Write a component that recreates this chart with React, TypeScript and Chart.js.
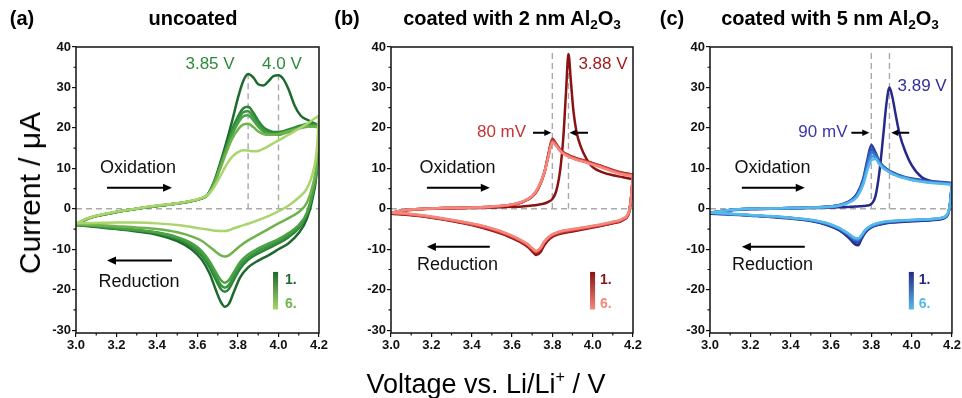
import React, { useEffect, useRef } from 'react';
import { Chart, registerables } from 'chart.js';

Chart.register(...registerables);

const FONT = "'Liberation Sans', Arial, Helvetica, sans-serif";

// ---------- axes ----------
const X_TICKS = [3.0, 3.2, 3.4, 3.6, 3.8, 4.0, 4.2];
const X_MINOR = [3.1, 3.3, 3.5, 3.7, 3.9, 4.1];
const Y_TICKS = [-30, -20, -10, 0, 10, 20, 30, 40];
const Y_MINOR = [-25, -15, -5, 5, 15, 25, 35];

// ---------- (a) uncoated ----------
const V_A_OX = [3.0, 3.05, 3.1, 3.2, 3.3, 3.4, 3.5, 3.56, 3.61, 3.65, 3.68, 3.71, 3.74, 3.77, 3.8, 3.825, 3.85, 3.875, 3.9, 3.925, 3.95, 3.975, 4.0, 4.025, 4.05, 4.08, 4.11, 4.15, 4.18, 4.2];
const A_OX_1 = [-4.0, -2.6, -1.8, -0.8, 0.0, 0.7, 1.3, 1.8, 2.4, 3.5, 6.5, 11.0, 16.0, 21.5, 27.5, 31.5, 33.3, 32.5, 30.8, 30.5, 31.5, 32.8, 33.0, 32.0, 29.5, 25.5, 23.0, 21.8, 21.0, 20.5];
const A_OX_2 = [-4.0, -2.6, -1.8, -0.8, 0.0, 0.7, 1.3, 1.8, 2.4, 3.5, 6.3, 10.5, 15.0, 19.5, 22.8, 24.8, 25.2, 23.8, 21.8, 20.2, 19.4, 19.0, 19.0, 19.2, 19.6, 20.1, 20.6, 21.0, 21.0, 20.8];
const A_OX_3 = [-3.9, -2.6, -1.8, -0.8, 0.0, 0.7, 1.3, 1.8, 2.4, 3.4, 6.2, 10.3, 14.6, 18.8, 22.0, 23.8, 24.1, 22.8, 21.0, 19.6, 18.9, 18.6, 18.6, 18.9, 19.3, 19.8, 20.3, 20.7, 20.8, 20.6];
const A_OX_4 = [-3.9, -2.6, -1.8, -0.8, 0.0, 0.7, 1.3, 1.8, 2.4, 3.4, 6.1, 10.0, 14.2, 18.2, 21.2, 22.8, 23.1, 21.9, 20.3, 19.1, 18.5, 18.3, 18.3, 18.6, 19.0, 19.5, 20.0, 20.5, 20.6, 20.4];
const A_OX_5 = [-3.8, -2.5, -1.7, -0.8, 0.0, 0.7, 1.3, 1.8, 2.4, 3.4, 5.8, 9.6, 13.6, 17.2, 19.6, 20.8, 21.0, 20.2, 19.1, 18.5, 18.3, 18.3, 18.5, 18.8, 19.2, 19.6, 20.0, 20.3, 20.3, 20.0];
const A_OX_6 = [-3.6, -2.5, -1.7, -0.7, 0.1, 0.8, 1.4, 1.9, 2.5, 3.4, 5.2, 7.8, 10.6, 12.8, 14.0, 14.5, 14.4, 14.2, 14.3, 14.8, 15.5, 16.2, 16.9, 17.6, 18.3, 19.2, 20.1, 21.3, 22.4, 23.0];

const V_A_RED = [3.0, 3.1, 3.2, 3.3, 3.4, 3.5, 3.57, 3.62, 3.66, 3.69, 3.715, 3.735, 3.755, 3.78, 3.81, 3.85, 3.9, 3.95, 4.0, 4.05, 4.1, 4.14, 4.17, 4.19, 4.2];
const A_RED_1 = [-4.0, -4.5, -5.0, -5.6, -6.4, -8.0, -10.0, -12.5, -16.0, -20.0, -23.0, -24.2, -23.5, -20.5, -17.0, -14.5, -12.8, -11.5, -10.0, -8.5, -6.0, -2.5, 3.0, 10.0, 20.5];
const A_RED_2 = [-4.0, -4.4, -4.9, -5.4, -6.1, -7.5, -9.3, -11.5, -14.5, -17.5, -19.8, -20.5, -19.8, -17.5, -14.8, -12.6, -11.0, -9.8, -8.5, -7.0, -4.8, -1.5, 4.0, 11.0, 20.8];
const A_RED_3 = [-3.9, -4.3, -4.8, -5.3, -5.9, -7.2, -8.9, -11.0, -13.8, -16.6, -18.8, -19.5, -18.8, -16.6, -14.0, -12.0, -10.4, -9.2, -8.0, -6.5, -4.4, -1.2, 4.2, 11.0, 20.6];
const A_RED_4 = [-3.9, -4.2, -4.7, -5.2, -5.8, -7.0, -8.5, -10.4, -13.0, -15.6, -17.6, -18.3, -17.6, -15.6, -13.2, -11.3, -9.8, -8.6, -7.5, -6.0, -4.0, -1.0, 4.5, 11.0, 20.4];
const A_RED_5 = [-3.8, -4.0, -4.3, -4.6, -5.0, -5.8, -6.8, -7.9, -9.4, -10.6, -11.5, -11.8, -11.5, -10.5, -9.2, -7.8, -6.4, -5.0, -3.6, -2.3, -0.8, 1.5, 6.0, 12.0, 20.0];
const A_RED_6 = [-3.6, -3.5, -3.4, -3.4, -3.6, -4.0, -4.5, -4.9, -5.2, -5.4, -5.5, -5.5, -5.3, -4.8, -4.3, -3.7, -2.8, -1.8, -0.6, 0.8, 2.8, 5.0, 9.0, 15.0, 23.0];

// ---------- (b) 2 nm Al2O3 ----------
const V_B_OX = [3.0, 3.05, 3.1, 3.2, 3.3, 3.4, 3.5, 3.6, 3.65, 3.7, 3.73, 3.76, 3.78, 3.8, 3.82, 3.84, 3.855, 3.868, 3.88, 3.892, 3.905, 3.92, 3.94, 3.97, 4.0, 4.05, 4.1, 4.15, 4.2];
const B_OX_1 = [-1.2, -0.6, -0.3, 0.0, 0.1, 0.2, 0.3, 0.5, 0.6, 0.8, 1.0, 1.3, 1.7, 2.4, 4.5, 10.0, 18.0, 29.0, 38.3, 31.5, 24.0, 19.0, 15.5, 12.3, 10.3, 9.0, 8.3, 7.8, 7.3];
const B_OX_2 = [-1.0, -0.5, -0.2, 0.1, 0.2, 0.3, 0.5, 1.0, 1.6, 3.0, 5.0, 9.0, 13.5, 17.3, 16.0, 14.6, 14.0, 13.6, 13.3, 13.0, 12.8, 12.5, 12.2, 11.8, 11.3, 10.5, 9.6, 8.9, 8.5];
const B_OX_3 = [-1.0, -0.5, -0.2, 0.1, 0.2, 0.3, 0.5, 1.0, 1.6, 3.0, 5.0, 8.8, 13.2, 17.0, 15.8, 14.5, 13.9, 13.5, 13.2, 12.9, 12.7, 12.4, 12.1, 11.7, 11.2, 10.4, 9.5, 8.8, 8.4];
const B_OX_4 = [-1.0, -0.5, -0.2, 0.1, 0.2, 0.3, 0.5, 1.0, 1.7, 3.1, 5.1, 8.8, 13.0, 16.8, 15.7, 14.4, 13.8, 13.4, 13.1, 12.8, 12.6, 12.3, 12.0, 11.6, 11.1, 10.3, 9.4, 8.7, 8.3];
const B_OX_5 = [-1.0, -0.5, -0.2, 0.1, 0.2, 0.3, 0.5, 1.1, 1.7, 3.1, 5.2, 8.9, 12.9, 16.6, 15.6, 14.3, 13.7, 13.3, 13.0, 12.7, 12.5, 12.2, 11.9, 11.5, 11.0, 10.2, 9.3, 8.6, 8.2];
const B_OX_6 = [-1.0, -0.5, -0.2, 0.1, 0.2, 0.3, 0.6, 1.1, 1.8, 3.2, 5.3, 9.0, 12.8, 16.4, 15.5, 14.2, 13.6, 13.2, 12.9, 12.6, 12.4, 12.1, 11.8, 11.4, 10.9, 10.1, 9.2, 8.5, 8.1];

const V_B_RED = [3.0, 3.1, 3.2, 3.3, 3.4, 3.5, 3.58, 3.64, 3.68, 3.7, 3.72, 3.74, 3.76, 3.79, 3.83, 3.9, 4.0, 4.1, 4.15, 4.18, 4.19, 4.2];
const B_RED_1 = [-1.2, -1.6, -2.2, -3.0, -4.0, -5.4, -6.8, -8.2, -9.5, -10.5, -11.4, -10.8, -9.0, -7.3, -6.3, -5.6, -4.6, -3.6, -2.8, -1.0, 2.0, 7.3];
const B_RED_2 = [-1.0, -1.5, -2.1, -2.9, -3.9, -5.2, -6.6, -8.0, -9.3, -10.2, -10.9, -10.2, -8.6, -7.0, -6.1, -5.4, -4.5, -3.5, -2.7, -0.8, 2.5, 8.5];
const B_RED_3 = [-1.0, -1.5, -2.1, -2.9, -3.9, -5.1, -6.5, -7.9, -9.1, -10.0, -10.7, -10.0, -8.4, -6.9, -6.0, -5.3, -4.4, -3.4, -2.6, -0.8, 2.5, 8.4];
const B_RED_4 = [-1.0, -1.4, -2.0, -2.8, -3.8, -5.0, -6.4, -7.8, -9.0, -9.9, -10.6, -9.9, -8.3, -6.8, -5.9, -5.2, -4.4, -3.4, -2.6, -0.8, 2.5, 8.3];
const B_RED_5 = [-1.0, -1.4, -2.0, -2.8, -3.7, -4.9, -6.3, -7.7, -8.9, -9.8, -10.5, -9.8, -8.2, -6.7, -5.8, -5.1, -4.3, -3.3, -2.5, -0.7, 2.5, 8.2];
const B_RED_6 = [-0.9, -1.3, -1.9, -2.7, -3.6, -4.8, -6.2, -7.6, -8.8, -9.7, -10.4, -9.7, -8.1, -6.6, -5.7, -5.0, -4.2, -3.2, -2.4, -0.6, 2.5, 8.1];

// ---------- (c) 5 nm Al2O3 ----------
const V_C_OX = [3.0, 3.05, 3.1, 3.2, 3.3, 3.4, 3.5, 3.6, 3.65, 3.7, 3.73, 3.76, 3.78, 3.8, 3.82, 3.84, 3.86, 3.875, 3.89, 3.905, 3.92, 3.94, 3.97, 4.0, 4.05, 4.1, 4.15, 4.2];
const C_OX_1 = [-1.2, -0.7, -0.4, -0.1, 0.0, 0.1, 0.2, 0.3, 0.4, 0.5, 0.6, 0.7, 0.8, 1.2, 3.0, 9.0, 18.5, 26.0, 30.0, 27.5, 23.5, 18.5, 14.0, 10.8, 7.8, 6.8, 6.4, 6.1];
const C_OX_2 = [-1.0, -0.6, -0.3, 0.0, 0.1, 0.2, 0.3, 0.6, 1.0, 2.2, 3.8, 7.5, 12.0, 15.8, 14.0, 11.8, 10.5, 9.9, 9.4, 9.0, 8.7, 8.3, 7.8, 7.5, 7.1, 6.8, 6.6, 6.4];
const C_OX_3 = [-1.0, -0.6, -0.3, 0.0, 0.1, 0.2, 0.3, 0.6, 1.0, 2.1, 3.6, 7.1, 11.3, 14.8, 13.6, 11.6, 10.4, 9.8, 9.3, 8.9, 8.6, 8.2, 7.7, 7.4, 7.0, 6.7, 6.5, 6.3];
const C_OX_4 = [-1.0, -0.6, -0.3, 0.0, 0.1, 0.2, 0.3, 0.6, 1.0, 2.0, 3.4, 6.8, 10.7, 14.0, 13.2, 11.4, 10.3, 9.7, 9.2, 8.8, 8.5, 8.1, 7.7, 7.3, 6.9, 6.6, 6.4, 6.2];
const C_OX_5 = [-1.0, -0.6, -0.3, 0.0, 0.1, 0.2, 0.3, 0.6, 0.9, 1.9, 3.2, 6.4, 10.1, 13.0, 12.8, 11.2, 10.1, 9.6, 9.1, 8.7, 8.4, 8.0, 7.6, 7.2, 6.8, 6.5, 6.3, 6.1];
const C_OX_6 = [-1.0, -0.6, -0.3, 0.0, 0.1, 0.2, 0.3, 0.5, 0.9, 1.8, 3.0, 6.0, 9.5, 12.0, 12.3, 11.0, 10.0, 9.5, 9.0, 8.6, 8.3, 7.9, 7.5, 7.1, 6.7, 6.4, 6.2, 6.0];

const V_C_RED = [3.0, 3.1, 3.2, 3.3, 3.4, 3.5, 3.58, 3.64, 3.68, 3.7, 3.72, 3.735, 3.75, 3.77, 3.8, 3.85, 3.9, 4.0, 4.1, 4.15, 4.18, 4.19, 4.2];
const C_RED_1 = [-1.2, -1.4, -1.7, -2.0, -2.4, -3.0, -4.0, -5.3, -6.8, -7.8, -8.8, -9.0, -7.6, -5.9, -4.6, -3.8, -3.4, -3.1, -2.8, -2.5, -1.4, 1.0, 6.1];
const C_RED_2 = [-1.0, -1.3, -1.6, -1.9, -2.3, -2.9, -3.9, -5.1, -6.5, -7.4, -8.2, -8.4, -7.2, -5.7, -4.5, -3.7, -3.3, -3.0, -2.7, -2.4, -1.3, 1.0, 6.4];
const C_RED_3 = [-1.0, -1.3, -1.6, -1.9, -2.3, -2.9, -3.8, -5.0, -6.3, -7.1, -7.9, -8.0, -7.0, -5.5, -4.4, -3.6, -3.2, -2.9, -2.6, -2.3, -1.2, 1.0, 6.3];
const C_RED_4 = [-1.0, -1.3, -1.6, -1.9, -2.3, -2.8, -3.7, -4.9, -6.1, -6.9, -7.6, -7.7, -6.8, -5.4, -4.3, -3.5, -3.1, -2.8, -2.6, -2.3, -1.2, 1.0, 6.2];
const C_RED_5 = [-1.0, -1.3, -1.6, -1.9, -2.2, -2.8, -3.6, -4.8, -6.0, -6.7, -7.4, -7.5, -6.7, -5.3, -4.2, -3.4, -3.1, -2.8, -2.5, -2.2, -1.1, 1.0, 6.1];
const C_RED_6 = [-0.9, -1.2, -1.5, -1.8, -2.2, -2.7, -3.5, -4.7, -5.9, -6.6, -7.2, -7.3, -6.6, -5.2, -4.1, -3.3, -3.0, -2.7, -2.5, -2.2, -1.1, 1.0, 6.0];

// ---------- colours (cycle 1 → cycle 6) ----------
const GREENS = ['#1d6a2c', '#2b8437', '#3a953f', '#4aa245', '#70b34c', '#a9d56c'];
const REDS = ['#8a1212', '#a81f1f', '#c22f2f', '#d64343', '#e65e58', '#f3897d'];
const BLUES = ['#26288a', '#2c3ea0', '#2f57b8', '#3373cc', '#3b93dd', '#57b9ea'];

type Txt = { v: number; i: number; text: string; color: string; size: number; bold?: boolean; align?: CanvasTextAlign };
type Arr = { v1: number; v2: number; i: number; head: number };
type Annot = {
  vlines: { v: number; top: number }[];
  texts: Txt[];
  arrows: Arr[];
  bar: { v1: number; v2: number; i1: number; i2: number; c1: string; c2: string };
};

const ANNOT_A: Annot = {
  vlines: [{ v: 3.85, top: 33.5 }, { v: 4.0, top: 33.2 }],
  texts: [
    { v: 3.662, i: 35.6, text: '3.85 V', color: '#2f8a3a', size: 17 },
    { v: 4.017, i: 35.6, text: '4.0 V', color: '#2f8a3a', size: 17 },
    { v: 3.306, i: 10.1, text: 'Oxidation', color: '#111', size: 18 },
    { v: 3.311, i: -18.0, text: 'Reduction', color: '#111', size: 18 },
    { v: 4.032, i: -17.6, text: '1.', color: GREENS[0], size: 14, bold: true, align: 'left' },
    { v: 4.032, i: -23.6, text: '6.', color: GREENS[4], size: 14, bold: true, align: 'left' },
  ],
  arrows: [
    { v1: 3.153, v2: 3.474, i: 5.2, head: 9 },
    { v1: 3.474, v2: 3.153, i: -12.8, head: 9 },
  ],
  bar: { v1: 3.973, v2: 3.998, i1: -15.6, i2: -24.9, c1: GREENS[0], c2: GREENS[5] },
};

const ANNOT_B: Annot = {
  vlines: [{ v: 3.8, top: 38.5 }, { v: 3.88, top: 38.5 }],
  texts: [
    { v: 4.051, i: 35.6, text: '3.88 V', color: '#a11d1d', size: 17 },
    { v: 3.548, i: 18.8, text: '80 mV', color: '#c43434', size: 17 },
    { v: 3.33, i: 10.1, text: 'Oxidation', color: '#111', size: 18 },
    { v: 3.33, i: -13.8, text: 'Reduction', color: '#111', size: 18 },
    { v: 4.036, i: -17.6, text: '1.', color: REDS[0], size: 14, bold: true, align: 'left' },
    { v: 4.036, i: -23.6, text: '6.', color: REDS[5], size: 14, bold: true, align: 'left' },
  ],
  arrows: [
    { v1: 3.704, v2: 3.795, i: 18.8, head: 7 },
    { v1: 3.977, v2: 3.885, i: 18.8, head: 7 },
    { v1: 3.178, v2: 3.49, i: 5.2, head: 9 },
    { v1: 3.49, v2: 3.178, i: -9.4, head: 9 },
  ],
  bar: { v1: 3.987, v2: 4.012, i1: -15.6, i2: -24.9, c1: REDS[0], c2: REDS[5] },
};

const ANNOT_C: Annot = {
  vlines: [{ v: 3.8, top: 38.5 }, { v: 3.89, top: 38.5 }],
  texts: [
    { v: 4.052, i: 30.4, text: '3.89 V', color: '#30309a', size: 17 },
    { v: 3.56, i: 18.8, text: '90 mV', color: '#3838aa', size: 17 },
    { v: 3.31, i: 10.1, text: 'Oxidation', color: '#111', size: 18 },
    { v: 3.31, i: -13.8, text: 'Reduction', color: '#111', size: 18 },
    { v: 4.035, i: -17.6, text: '1.', color: BLUES[0], size: 14, bold: true, align: 'left' },
    { v: 4.035, i: -23.6, text: '6.', color: BLUES[5], size: 14, bold: true, align: 'left' },
  ],
  arrows: [
    { v1: 3.701, v2: 3.79, i: 18.8, head: 7 },
    { v1: 3.988, v2: 3.899, i: 18.8, head: 7 },
    { v1: 3.158, v2: 3.47, i: 5.2, head: 9 },
    { v1: 3.47, v2: 3.158, i: -9.4, head: 9 },
  ],
  bar: { v1: 3.986, v2: 4.011, i1: -15.6, i2: -24.9, c1: BLUES[0], c2: BLUES[5] },
};

type Panel = {
  vOx: number[];
  ox: number[][];
  vRed: number[];
  red: number[][];
  colors: string[];
  padding: { left: number; right: number; top: number; bottom: number };
  annot: Annot;
};

const PANELS: Panel[] = [
  {
    vOx: V_A_OX, ox: [A_OX_1, A_OX_2, A_OX_3, A_OX_4, A_OX_5, A_OX_6],
    vRed: V_A_RED, red: [A_RED_1, A_RED_2, A_RED_3, A_RED_4, A_RED_5, A_RED_6],
    colors: GREENS, padding: { left: 42, right: 643, top: 47, bottom: 39 }, annot: ANNOT_A,
  },
  {
    vOx: V_B_OX, ox: [B_OX_1, B_OX_2, B_OX_3, B_OX_4, B_OX_5, B_OX_6],
    vRed: V_B_RED, red: [B_RED_1, B_RED_2, B_RED_3, B_RED_4, B_RED_5, B_RED_6],
    colors: REDS, padding: { left: 357, right: 329, top: 47, bottom: 39 }, annot: ANNOT_B,
  },
  {
    vOx: V_C_OX, ox: [C_OX_1, C_OX_2, C_OX_3, C_OX_4, C_OX_5, C_OX_6],
    vRed: V_C_RED, red: [C_RED_1, C_RED_2, C_RED_3, C_RED_4, C_RED_5, C_RED_6],
    colors: BLUES, padding: { left: 676, right: 9, top: 47, bottom: 39 }, annot: ANNOT_C,
  },
];

const pts = (v: number[], y: number[]) => v.map((x, k) => ({ x, y: y[k] }));

function annotPlugin(a: Annot) {
  return {
    id: 'cvAnnot',
    beforeDatasetsDraw(chart: any) {
      const { ctx, chartArea: ca, scales } = chart;
      const xs = scales.x, ys = scales.y;
      ctx.save();
      ctx.strokeStyle = '#a9a9a9';
      ctx.lineWidth = 1.4;
      ctx.setLineDash([6, 4]);
      const y0 = ys.getPixelForValue(0);
      ctx.beginPath();
      ctx.moveTo(ca.left, y0);
      ctx.lineTo(ca.right, y0);
      ctx.stroke();
      for (const l of a.vlines) {
        const x = xs.getPixelForValue(l.v);
        ctx.beginPath();
        ctx.moveTo(x, ys.getPixelForValue(l.top));
        ctx.lineTo(x, y0);
        ctx.stroke();
      }
      ctx.restore();
    },
    afterDatasetsDraw(chart: any) {
      const { ctx, scales } = chart;
      const xs = scales.x, ys = scales.y;
      ctx.save();
      for (const ar of a.arrows) {
        const x1 = xs.getPixelForValue(ar.v1), x2 = xs.getPixelForValue(ar.v2);
        const y = ys.getPixelForValue(ar.i);
        const dir = Math.sign(x2 - x1);
        ctx.strokeStyle = '#000';
        ctx.fillStyle = '#000';
        ctx.lineWidth = 2;
        ctx.beginPath();
        ctx.moveTo(x1, y);
        ctx.lineTo(x2 - dir * ar.head * 0.8, y);
        ctx.stroke();
        ctx.beginPath();
        ctx.moveTo(x2, y);
        ctx.lineTo(x2 - dir * ar.head, y - ar.head * 0.45);
        ctx.lineTo(x2 - dir * ar.head, y + ar.head * 0.45);
        ctx.closePath();
        ctx.fill();
      }
      const b = a.bar;
      const bx1 = xs.getPixelForValue(b.v1), bx2 = xs.getPixelForValue(b.v2);
      const by1 = ys.getPixelForValue(b.i1), by2 = ys.getPixelForValue(b.i2);
      const g = ctx.createLinearGradient(0, by1, 0, by2);
      g.addColorStop(0, b.c1);
      g.addColorStop(1, b.c2);
      ctx.fillStyle = g;
      ctx.fillRect(bx1, by1, bx2 - bx1, by2 - by1);
      ctx.textBaseline = 'middle';
      for (const t of a.texts) {
        ctx.font = `${t.bold ? 'bold ' : ''}${t.size}px ${FONT}`;
        ctx.fillStyle = t.color;
        ctx.textAlign = t.align || 'center';
        ctx.fillText(t.text, xs.getPixelForValue(t.v), ys.getPixelForValue(t.i));
      }
      ctx.restore();
    },
    afterDraw(chart: any) {
      const { ctx, chartArea: ca, scales } = chart;
      const xs = scales.x, ys = scales.y;
      ctx.save();
      ctx.strokeStyle = '#111';
      ctx.lineWidth = 1.5;
      ctx.strokeRect(ca.left, ca.top, ca.right - ca.left, ca.bottom - ca.top);
      ctx.lineWidth = 1.2;
      ctx.beginPath();
      for (const v of X_MINOR) {
        const x = xs.getPixelForValue(v);
        ctx.moveTo(x, ca.bottom);
        ctx.lineTo(x, ca.bottom + 2.5);
      }
      for (const v of Y_MINOR) {
        const y = ys.getPixelForValue(v);
        ctx.moveTo(ca.left, y);
        ctx.lineTo(ca.left - 2.5, y);
      }
      ctx.stroke();
      ctx.restore();
    },
  };
}

function makeConfig(p: Panel): any {
  const datasets: any[] = [];
  for (let c = 0; c < 6; c++) {
    const common = {
      showLine: true,
      borderColor: p.colors[c],
      backgroundColor: p.colors[c],
      borderWidth: 2.5,
      pointRadius: 0,
      cubicInterpolationMode: 'monotone',
      fill: false,
      order: 6 - c, // later cycles drawn on top
    };
    datasets.push({ ...common, label: `cycle ${c + 1} oxidation`, data: pts(p.vOx, p.ox[c]) });
    datasets.push({ ...common, label: `cycle ${c + 1} reduction`, data: pts(p.vRed, p.red[c]) });
  }
  const tickFont = { family: FONT, size: 13, weight: 'bold' as const };
  return {
    type: 'scatter',
    data: { datasets },
    options: {
      responsive: false,
      animation: false,
      devicePixelRatio: 1,
      layout: { padding: p.padding },
      plugins: { legend: { display: false }, tooltip: { enabled: false } },
      events: [],
      scales: {
        x: {
          type: 'linear',
          min: 3.0,
          max: 4.2,
          afterBuildTicks: (s: any) => { s.ticks = X_TICKS.map((value) => ({ value })); },
          afterFit: (s: any) => { s.height = 26; },
          ticks: { font: tickFont, color: '#111', padding: 1, maxRotation: 0, autoSkip: false, callback: (v: any) => Number(v).toFixed(1) },
          grid: { drawOnChartArea: false, drawTicks: true, tickLength: 4, color: '#111', lineWidth: 1.2 },
          border: { display: false },
        },
        y: {
          type: 'linear',
          min: -30.7,
          max: 40,
          afterBuildTicks: (s: any) => { s.ticks = Y_TICKS.map((value) => ({ value })); },
          afterFit: (s: any) => { s.width = 34; },
          ticks: { font: tickFont, color: '#111', padding: 1, callback: (v: any) => String(v) },
          grid: { drawOnChartArea: false, drawTicks: true, tickLength: 4, color: '#111', lineWidth: 1.2 },
          border: { display: false },
        },
      },
    },
    plugins: [annotPlugin(p.annot)],
  };
}

function PanelCanvas({ panel }: { panel: Panel }) {
  const ref = useRef<HTMLCanvasElement | null>(null);
  useEffect(() => {
    if (!ref.current) return;
    const chart = new Chart(ref.current, makeConfig(panel));
    return () => chart.destroy();
  }, [panel]);
  return (
    <canvas
      ref={ref}
      width={962}
      height={398}
      style={{ position: 'absolute', left: 0, top: 0, width: 962, height: 398 }}
    />
  );
}

const sub: React.CSSProperties = { fontSize: '0.68em', verticalAlign: '-0.3em', lineHeight: 0 };

function Label({ x, y, children, style }: { x: number; y: number; children: React.ReactNode; style?: React.CSSProperties }) {
  return (
    <div
      style={{
        position: 'absolute',
        left: x,
        top: y,
        transform: 'translate(-50%, -50%)',
        whiteSpace: 'nowrap',
        fontFamily: FONT,
        color: '#000',
        lineHeight: 1,
        ...style,
      }}
    >
      {children}
    </div>
  );
}

export default function App() {
  const title: React.CSSProperties = { fontWeight: 'bold', fontSize: 20 };
  return (
    <div style={{ position: 'absolute', left: 0, top: 0, width: 962, height: 398, background: '#fff', overflow: 'hidden' }}>
      {PANELS.map((p, k) => (
        <PanelCanvas key={k} panel={p} />
      ))}
      <Label x={22} y={18} style={title}>(a)</Label>
      <Label x={193} y={18} style={title}>uncoated</Label>
      <Label x={347} y={18} style={title}>(b)</Label>
      <Label x={512} y={18} style={title}>
        coated with 2 nm Al<sub style={sub}>2</sub>O<sub style={sub}>3</sub>
      </Label>
      <Label x={672} y={18} style={title}>(c)</Label>
      <Label x={830} y={18} style={title}>
        coated with 5 nm Al<sub style={sub}>2</sub>O<sub style={sub}>3</sub>
      </Label>
      <Label x={30} y={193} style={{ fontSize: 30, transform: 'translate(-50%, -50%) rotate(-90deg)' }}>
        Current / μA
      </Label>
      <Label x={486} y={384} style={{ fontSize: 27 }}>
        Voltage vs. Li/Li<sup style={{ fontSize: '0.6em', verticalAlign: '0.65em', lineHeight: 0 }}>+</sup> / V
      </Label>
    </div>
  );
}
